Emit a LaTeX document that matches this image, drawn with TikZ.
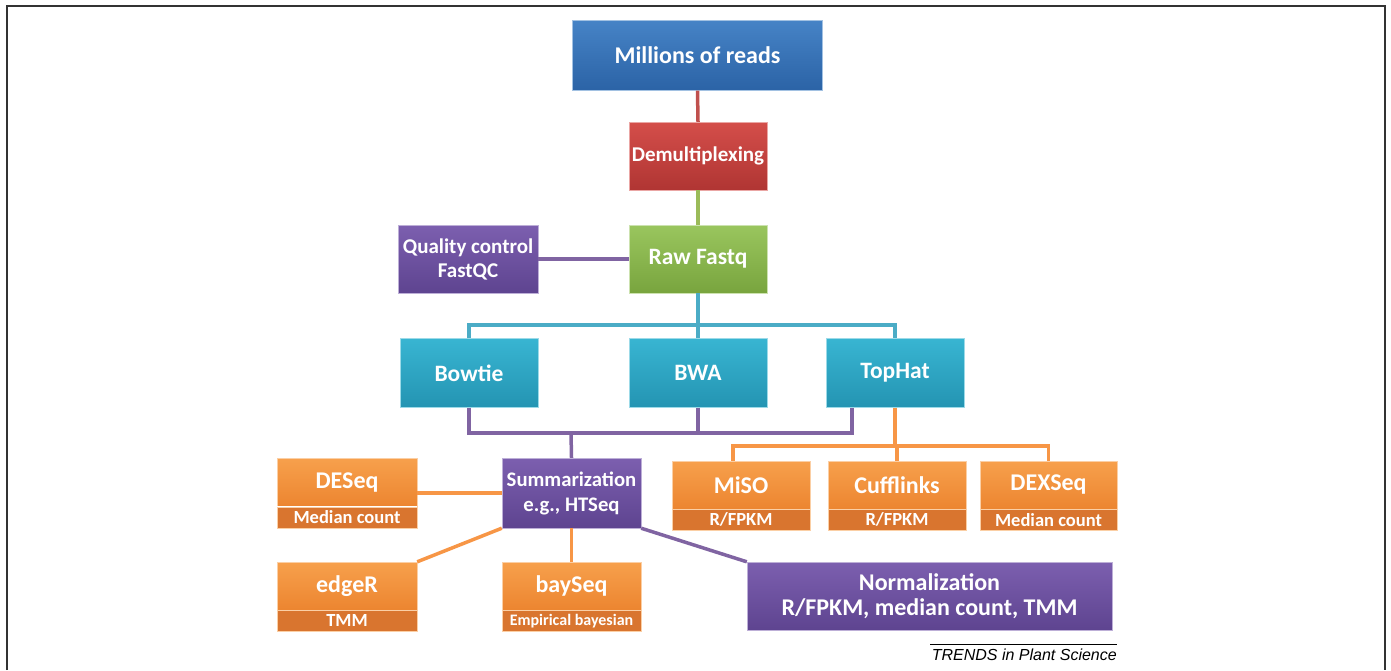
\documentclass[tikz,border=0pt]{standalone}
\usepackage{fontspec}
\setmainfont{Carlito}
\newfontfamily\trendsfont{Liberation Sans}
\definecolor{blueT}{HTML}{4683C6}
\definecolor{blueB}{HTML}{2B63A6}
\definecolor{redT}{HTML}{D44E4A}
\definecolor{redB}{HTML}{B03533}
\definecolor{greenT}{HTML}{9AC65E}
\definecolor{greenB}{HTML}{78A43E}
\definecolor{purpT}{HTML}{7C5FAF}
\definecolor{purpB}{HTML}{5E4490}
\definecolor{cyanT}{HTML}{38B5D2}
\definecolor{cyanB}{HTML}{2494B2}
\definecolor{orT}{HTML}{F7A04C}
\definecolor{orB}{HTML}{EC8530}
\definecolor{orS}{HTML}{D9752F}
\definecolor{lnR}{HTML}{C0504D}
\definecolor{lnG}{HTML}{9BBB59}
\definecolor{lnP}{HTML}{8064A2}
\definecolor{lnC}{HTML}{4BACC6}
\definecolor{lnO}{HTML}{F79646}

\begin{document}
\begin{tikzpicture}[x=1pt,y=-1pt,
box/.style={shape=rectangle,inner sep=0pt,text=white,align=center,font=\bfseries\fontsize{23.5}{25}\selectfont,minimum width=138pt,minimum height=69pt},
boxB/.style={box,top color=blueT,bottom color=blueB,draw=blueT!50!white},
boxR/.style={box,top color=redT,bottom color=redB,draw=redT!50!white},
boxG/.style={box,top color=greenT,bottom color=greenB,draw=greenT!50!white},
boxP/.style={box,top color=purpT,bottom color=purpB,draw=purpT!50!white},
boxC/.style={box,top color=cyanT,bottom color=cyanB,draw=cyanT!50!white},
boxO/.style={box,top color=orT,bottom color=orB,draw=orT!50!white,minimum height=48pt,font=\bfseries\fontsize{24}{26}\selectfont},
boxOs/.style={box,fill=orS,draw=orT!50!white,minimum height=21pt,font=\bfseries\fontsize{18.5}{20}\selectfont,
  path picture={\draw[white,line width=1.2pt] (path picture bounding box.north west) -- (path picture bounding box.north east);}},
lineR/.style={draw=lnR,line width=3.5pt},
lineG/.style={draw=lnG,line width=3.5pt},
lineP/.style={draw=lnP,line width=3.5pt},
lineC/.style={draw=lnC,line width=3.5pt},
lineO/.style={draw=lnO,line width=3.5pt}]

\useasboundingbox (0,0) rectangle (1391,670);
\draw[black!80,line width=1.8pt] (7,670) -- (7,6) -- (1385,6) -- (1385,670);

\node[boxB,minimum width=250pt,minimum height=70pt,font=\bfseries\fontsize{24}{26}\selectfont] (reads) at (697.5,55.5) {Millions of reads};
\node[boxR,minimum height=68pt,font=\bfseries\fontsize{21}{23}\selectfont] (demux) at (698,156) {Demultiplexing};
\node[boxG,minimum height=68pt] (raw) at (698,259) {Raw Fastq};
\node[boxP,minimum width=140pt,minimum height=68pt,font=\bfseries\fontsize{21}{24}\selectfont] (qc) at (468,259) {Quality control\\FastQC};

\node[boxC] (bowtie) at (469,373) {Bowtie};
\node[boxC] (bwa) at (698,373) {BWA};
\node[boxC] (tophat) at (895,373) {TopHat};

\node[boxP,minimum width=139pt,minimum height=70pt,font=\bfseries\fontsize{20.7}{25}\selectfont] (summ) at (571.5,493) {Summarization\\e.g., HTSeq};

\node[boxO,minimum width=140pt] (deseq) at (347,482.5) {DESeq};
\node[boxOs,minimum width=140pt,anchor=north] (deseqS) at (deseq.south) {Median count};
\node[boxO,minimum width=140pt] (edger) at (347,586) {edgeR};
\node[boxOs,minimum width=140pt,anchor=north] (edgerS) at (edger.south) {TMM};
\node[boxO,minimum width=139pt] (bayseq) at (571.5,586) {baySeq};
\node[boxOs,minimum width=139pt,anchor=north,font=\bfseries\fontsize{16}{18}\selectfont] (bayseqS) at (bayseq.south) {Empirical bayesian};

\node[boxO] (miso) at (741,485) {MiSO};
\node[boxOs,anchor=north] (misoS) at (miso.south) {R/FPKM};
\node[boxO] (cuff) at (897,485) {Cufflinks};
\node[boxOs,anchor=north] (cuffS) at (cuff.south) {R/FPKM};
\node[boxO,minimum width=137pt] (dexseq) at (1048.5,485) {DEXSeq};
\node[boxOs,minimum width=137pt,anchor=north] (dexseqS) at (dexseq.south) {Median count};

\node[boxP,minimum width=365pt,minimum height=68pt,font=\bfseries\fontsize{24}{25}\selectfont] (norm) at (929.5,596) {Normalization\\R/FPKM, median count, TMM};

\coordinate (cbus) at (698,325);
\coordinate (pbus) at (571,433);
\coordinate (obus) at (895,446);

\draw[lineR] (reads.south) -- (demux.north);
\draw[lineG] (demux.south) -- (raw.north);
\draw[lineP] (qc.east) -- (raw.west);

\draw[lineC] (raw.south) -- (cbus);
\draw[lineC] (bowtie.north) |- (cbus) -| (tophat.north);
\draw[lineC] (bwa.north) -- (bwa.north |- cbus);

\draw[lineP] (bowtie.south) |- (pbus) -| ([xshift=-43pt]tophat.south);
\draw[lineP] (bwa.south) -- (bwa.south |- pbus);
\draw[lineP] (pbus) -- (summ.north);

\draw[lineO] (tophat.south) -- (obus);
\draw[lineO] ([xshift=-8pt]miso.north) |- (obus) -| (dexseq.north);
\draw[lineO] (cuff.north) -- (cuff.north |- obus);

\draw[lineO] (summ.west) -- (summ.west -| deseq.east);
\draw[lineO] (summ.south west) -- (edger.north east);
\draw[lineO] (summ.south) -- (bayseq.north);
\draw[lineP] (summ.south east) -- (norm.north west);

\coordinate (tl) at (930,644);
\node[anchor=base east,inner sep=0pt,font=\trendsfont\itshape\fontsize{16}{18}\selectfont] (trends) at (1117,660) {TRENDS in Plant Science};
\draw[black,line width=0.6pt] (tl) -- (tl -| trends.east);
\end{tikzpicture}
\end{document}
